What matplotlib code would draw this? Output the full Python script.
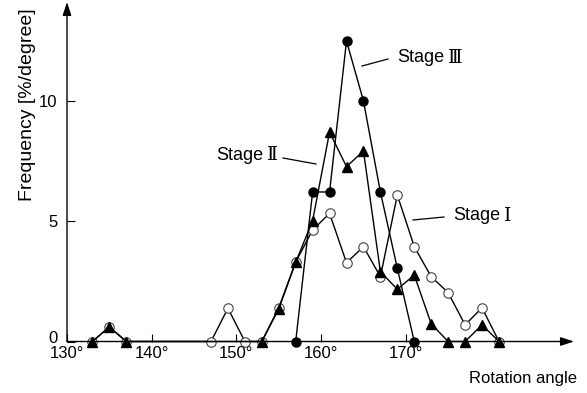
import matplotlib
matplotlib.use("Agg")
import matplotlib.pyplot as plt
import matplotlib.transforms as mtransforms

plt.rcParams['font.family'] = ['Liberation Sans', 'Noto Sans CJK JP', 'DejaVu Sans']

# Rotation-angle distributions (frequency in %/degree)
angle_1 = [133, 135, 137, 147, 149, 151, 153, 155, 157, 159, 161, 163, 165,
           167, 169, 171, 173, 175, 177, 179, 181]
freq_1 = [0, 0.6, 0, 0, 1.38, 0, 0, 1.4, 3.3, 4.63, 5.32, 3.27, 3.94,
          2.69, 6.08, 3.94, 2.69, 2.03, 0.69, 1.4, 0]

angle_2 = [133, 135, 137, 153, 155, 157, 159, 161, 163, 165, 167, 169, 171,
           173, 175, 177, 179, 181]
freq_2 = [0, 0.61, 0, 0, 1.35, 3.29, 5.02, 8.7, 7.26, 7.91, 2.9, 2.17, 2.76,
          0.73, 0, 0, 0.69, 0]

angle_3 = [157, 159, 161, 163, 165, 167, 169, 171]
freq_3 = [0, 6.21, 6.21, 12.48, 9.99, 6.21, 3.04, 0]

xticks = [130, 140, 150, 160, 170]
xticklabels = ["130°", "140°", "150°", "160°", "170°"]
yticks = [0, 5, 10]

W, H = 587, 393
fig = plt.figure(figsize=(W / 100, H / 100), dpi=100)
ax = fig.add_axes([67 / W, 1 - 341.5 / H, 507 / W, 339.5 / H])
ax.set_xlim(130, 130 + 507 / 8.47)
ax.set_ylim(0, 339.5 / 24.08)

ax.plot(angle_1, freq_1, '-o', color='black', lw=1.0, ms=6.8,
        mfc='white', mec='#444444', mew=0.8, clip_on=False, zorder=3)
ax.plot(angle_2, freq_2, '-^', color='black', lw=1.0, ms=7.5,
        clip_on=False, zorder=4)
ax.plot(angle_3, freq_3, '-o', color='black', lw=1.0, ms=6.5,
        clip_on=False, zorder=5)

for s in ax.spines.values():
    s.set_visible(False)

arrow_style = '-|>,head_length=0.8,head_width=0.26'
ax.annotate('', xy=(0, 1), xytext=(0, 0), xycoords='axes fraction',
            arrowprops=dict(arrowstyle=arrow_style, color='black', lw=1.0,
                            mutation_scale=10, shrinkA=0, shrinkB=0))
ax.annotate('', xy=(1, 0), xytext=(0, 0), xycoords='axes fraction',
            arrowprops=dict(arrowstyle=arrow_style, color='black', lw=1.0,
                            mutation_scale=10, shrinkA=0, shrinkB=0))

ax.set_xticks(xticks)
ax.set_xticklabels(xticklabels)
ax.set_yticks(yticks)
ax.tick_params(axis='x', direction='in', length=6, width=0.8, pad=3.5,
               labelsize=12)
ax.tick_params(axis='y', direction='in', length=5.5, width=0.8, pad=7,
               labelsize=12)
# lift the "0" label slightly so it clears the "130°" label below
zero_shift = mtransforms.ScaledTranslation(0, 3 / 72, fig.dpi_scale_trans)
for lbl in ax.get_yticklabels():
    if lbl.get_text() == '0':
        lbl.set_transform(lbl.get_transform() + zero_shift)

fig.text(28 / W, 1 - 105 / H, "Frequency [%/degree]", rotation=90,
         ha='center', va='center', fontsize=14)
fig.text(523 / W, 1 - 378 / H, "Rotation angle", ha='center', va='center',
         fontsize=12)

# Series labels with leader lines
def stage_label(numeral, tx, ty, x0, y0, x1, y1):
    word = fig.text(tx / W, 1 - ty / H, "Stage", ha='left', va='center',
                    fontsize=13)
    ax.annotate(numeral, xy=(1, 0.5), xycoords=word, xytext=(3, 0),
                textcoords='offset points', ha='left', va='center',
                fontsize=13.5, family=['DejaVu Serif'])
    fig.add_artist(plt.Line2D([x0 / W, x1 / W], [1 - y0 / H, 1 - y1 / H],
                              color='black', lw=0.9))

stage_label("Ⅲ", 397, 58, 362, 66, 388, 59)
stage_label("Ⅱ", 216, 155, 283, 158, 316, 164)
stage_label("Ⅰ", 453, 216, 413, 220, 444, 217)

fig.savefig("out.png", dpi=100)
